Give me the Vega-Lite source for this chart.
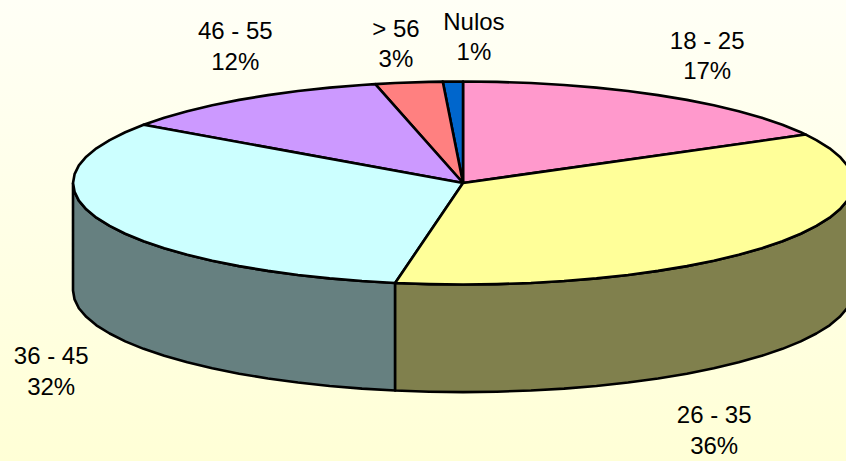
{"$schema":"https://vega.github.io/schema/vega-lite/v6.json","width":846,"height":461,"padding":0,"autosize":{"type":"none"},"background":"#FFFFE8","config":{"view":{"stroke":null}},
"datasets":{"side":[
{"s":"36 - 45 lado","i":1,"x":-100,"y":0},{"s":"36 - 45 lado","i":2,"x":-99.6,"y":-8.7},{"s":"36 - 45 lado","i":3,"x":-98.5,"y":-17.4},{"s":"36 - 45 lado","i":4,"x":-96.6,"y":-25.9},{"s":"36 - 45 lado","i":5,"x":-94,"y":-34.2},{"s":"36 - 45 lado","i":6,"x":-90.6,"y":-42.3},{"s":"36 - 45 lado","i":7,"x":-86.6,"y":-50},{"s":"36 - 45 lado","i":8,"x":-81.9,"y":-57.4},{"s":"36 - 45 lado","i":9,"x":-76.6,"y":-64.3},{"s":"36 - 45 lado","i":10,"x":-70.7,"y":-70.7},{"s":"36 - 45 lado","i":11,"x":-64.3,"y":-76.6},{"s":"36 - 45 lado","i":12,"x":-57.4,"y":-81.9},{"s":"36 - 45 lado","i":13,"x":-50,"y":-86.6},{"s":"36 - 45 lado","i":14,"x":-42.3,"y":-90.6},{"s":"36 - 45 lado","i":15,"x":-34.2,"y":-94},{"s":"36 - 45 lado","i":16,"x":-25.9,"y":-96.6},{"s":"36 - 45 lado","i":17,"x":-17.4,"y":-98.5},
{"s":"36 - 45 lado","i":18,"x":-17.4,"y":-204.5},{"s":"36 - 45 lado","i":19,"x":-25.9,"y":-202.6},{"s":"36 - 45 lado","i":20,"x":-34.2,"y":-200},{"s":"36 - 45 lado","i":21,"x":-42.3,"y":-196.6},{"s":"36 - 45 lado","i":22,"x":-50,"y":-192.6},{"s":"36 - 45 lado","i":23,"x":-57.4,"y":-187.9},{"s":"36 - 45 lado","i":24,"x":-64.3,"y":-182.6},{"s":"36 - 45 lado","i":25,"x":-70.7,"y":-176.7},{"s":"36 - 45 lado","i":26,"x":-76.6,"y":-170.3},{"s":"36 - 45 lado","i":27,"x":-81.9,"y":-163.4},{"s":"36 - 45 lado","i":28,"x":-86.6,"y":-156},{"s":"36 - 45 lado","i":29,"x":-90.6,"y":-148.3},{"s":"36 - 45 lado","i":30,"x":-94,"y":-140.2},{"s":"36 - 45 lado","i":31,"x":-96.6,"y":-131.9},{"s":"36 - 45 lado","i":32,"x":-98.5,"y":-123.4},{"s":"36 - 45 lado","i":33,"x":-99.6,"y":-114.7},{"s":"36 - 45 lado","i":34,"x":-100,"y":-106},{"s":"36 - 45 lado","i":35,"x":-100,"y":0},
{"s":"26 - 35 lado","i":1,"x":-17.4,"y":-98.5},{"s":"26 - 35 lado","i":2,"x":-8.7,"y":-99.6},{"s":"26 - 35 lado","i":3,"x":0,"y":-100},{"s":"26 - 35 lado","i":4,"x":8.7,"y":-99.6},{"s":"26 - 35 lado","i":5,"x":17.4,"y":-98.5},{"s":"26 - 35 lado","i":6,"x":25.9,"y":-96.6},{"s":"26 - 35 lado","i":7,"x":34.2,"y":-94},{"s":"26 - 35 lado","i":8,"x":42.3,"y":-90.6},{"s":"26 - 35 lado","i":9,"x":50,"y":-86.6},{"s":"26 - 35 lado","i":10,"x":57.4,"y":-81.9},{"s":"26 - 35 lado","i":11,"x":64.3,"y":-76.6},{"s":"26 - 35 lado","i":12,"x":70.7,"y":-70.7},{"s":"26 - 35 lado","i":13,"x":76.6,"y":-64.3},{"s":"26 - 35 lado","i":14,"x":81.9,"y":-57.4},{"s":"26 - 35 lado","i":15,"x":86.6,"y":-50},{"s":"26 - 35 lado","i":16,"x":90.6,"y":-42.3},{"s":"26 - 35 lado","i":17,"x":94,"y":-34.2},{"s":"26 - 35 lado","i":18,"x":96.6,"y":-25.9},{"s":"26 - 35 lado","i":19,"x":98.5,"y":-17.4},{"s":"26 - 35 lado","i":20,"x":99.6,"y":-8.7},{"s":"26 - 35 lado","i":21,"x":100,"y":0},
{"s":"26 - 35 lado","i":22,"x":100,"y":-106},{"s":"26 - 35 lado","i":23,"x":99.6,"y":-114.7},{"s":"26 - 35 lado","i":24,"x":98.5,"y":-123.4},{"s":"26 - 35 lado","i":25,"x":96.6,"y":-131.9},{"s":"26 - 35 lado","i":26,"x":94,"y":-140.2},{"s":"26 - 35 lado","i":27,"x":90.6,"y":-148.3},{"s":"26 - 35 lado","i":28,"x":86.6,"y":-156},{"s":"26 - 35 lado","i":29,"x":81.9,"y":-163.4},{"s":"26 - 35 lado","i":30,"x":76.6,"y":-170.3},{"s":"26 - 35 lado","i":31,"x":70.7,"y":-176.7},{"s":"26 - 35 lado","i":32,"x":64.3,"y":-182.6},{"s":"26 - 35 lado","i":33,"x":57.4,"y":-187.9},{"s":"26 - 35 lado","i":34,"x":50,"y":-192.6},{"s":"26 - 35 lado","i":35,"x":42.3,"y":-196.6},{"s":"26 - 35 lado","i":36,"x":34.2,"y":-200},{"s":"26 - 35 lado","i":37,"x":25.9,"y":-202.6},{"s":"26 - 35 lado","i":38,"x":17.4,"y":-204.5},{"s":"26 - 35 lado","i":39,"x":8.7,"y":-205.6},{"s":"26 - 35 lado","i":40,"x":0,"y":-206},{"s":"26 - 35 lado","i":41,"x":-8.7,"y":-205.6},{"s":"26 - 35 lado","i":42,"x":-17.4,"y":-204.5},{"s":"26 - 35 lado","i":43,"x":-17.4,"y":-98.5}
],"top":[
{"s":"18 - 25","i":0,"x":0,"y":0},{"s":"18 - 25","i":1,"x":87.9,"y":47.7},{"s":"18 - 25","i":2,"x":86.6,"y":50},{"s":"18 - 25","i":3,"x":81.9,"y":57.4},{"s":"18 - 25","i":4,"x":76.6,"y":64.3},{"s":"18 - 25","i":5,"x":70.7,"y":70.7},{"s":"18 - 25","i":6,"x":64.3,"y":76.6},{"s":"18 - 25","i":7,"x":57.4,"y":81.9},{"s":"18 - 25","i":8,"x":50,"y":86.6},{"s":"18 - 25","i":9,"x":42.3,"y":90.6},{"s":"18 - 25","i":10,"x":34.2,"y":94},{"s":"18 - 25","i":11,"x":25.9,"y":96.6},{"s":"18 - 25","i":12,"x":17.4,"y":98.5},{"s":"18 - 25","i":13,"x":8.7,"y":99.6},{"s":"18 - 25","i":14,"x":0,"y":100},{"s":"18 - 25","i":15,"x":0,"y":0},
{"s":"Nulos","i":0,"x":0,"y":0},{"s":"Nulos","i":1,"x":0,"y":100},{"s":"Nulos","i":2,"x":-5.2,"y":99.9},{"s":"Nulos","i":3,"x":0,"y":0},
{"s":"> 56","i":0,"x":0,"y":0},{"s":"> 56","i":1,"x":-5.2,"y":99.9},{"s":"> 56","i":2,"x":-8.7,"y":99.6},{"s":"> 56","i":3,"x":-17.4,"y":98.5},{"s":"> 56","i":4,"x":-22.5,"y":97.4},{"s":"> 56","i":5,"x":0,"y":0},
{"s":"46 - 55","i":0,"x":0,"y":0},{"s":"46 - 55","i":1,"x":-22.5,"y":97.4},{"s":"46 - 55","i":2,"x":-25.9,"y":96.6},{"s":"46 - 55","i":3,"x":-34.2,"y":94},{"s":"46 - 55","i":4,"x":-42.3,"y":90.6},{"s":"46 - 55","i":5,"x":-50,"y":86.6},{"s":"46 - 55","i":6,"x":-57.4,"y":81.9},{"s":"46 - 55","i":7,"x":-64.3,"y":76.6},{"s":"46 - 55","i":8,"x":-70.7,"y":70.7},{"s":"46 - 55","i":9,"x":-76.6,"y":64.3},{"s":"46 - 55","i":10,"x":-81.9,"y":57.4},{"s":"46 - 55","i":11,"x":0,"y":0},
{"s":"36 - 45","i":0,"x":0,"y":0},{"s":"36 - 45","i":1,"x":-81.9,"y":57.4},{"s":"36 - 45","i":2,"x":-86.6,"y":50},{"s":"36 - 45","i":3,"x":-90.6,"y":42.3},{"s":"36 - 45","i":4,"x":-94,"y":34.2},{"s":"36 - 45","i":5,"x":-96.6,"y":25.9},{"s":"36 - 45","i":6,"x":-98.5,"y":17.4},{"s":"36 - 45","i":7,"x":-99.6,"y":8.7},{"s":"36 - 45","i":8,"x":-100,"y":0},{"s":"36 - 45","i":9,"x":-99.6,"y":-8.7},{"s":"36 - 45","i":10,"x":-98.5,"y":-17.4},{"s":"36 - 45","i":11,"x":-96.6,"y":-25.9},{"s":"36 - 45","i":12,"x":-94,"y":-34.2},{"s":"36 - 45","i":13,"x":-90.6,"y":-42.3},{"s":"36 - 45","i":14,"x":-86.6,"y":-50},{"s":"36 - 45","i":15,"x":-81.9,"y":-57.4},{"s":"36 - 45","i":16,"x":-76.6,"y":-64.3},{"s":"36 - 45","i":17,"x":-70.7,"y":-70.7},{"s":"36 - 45","i":18,"x":-64.3,"y":-76.6},{"s":"36 - 45","i":19,"x":-57.4,"y":-81.9},{"s":"36 - 45","i":20,"x":-50,"y":-86.6},{"s":"36 - 45","i":21,"x":-42.3,"y":-90.6},{"s":"36 - 45","i":22,"x":-34.2,"y":-94},{"s":"36 - 45","i":23,"x":-25.9,"y":-96.6},{"s":"36 - 45","i":24,"x":-17.4,"y":-98.5},{"s":"36 - 45","i":25,"x":0,"y":0},
{"s":"26 - 35","i":0,"x":0,"y":0},{"s":"26 - 35","i":1,"x":-17.4,"y":-98.5},{"s":"26 - 35","i":2,"x":-8.7,"y":-99.6},{"s":"26 - 35","i":3,"x":0,"y":-100},{"s":"26 - 35","i":4,"x":8.7,"y":-99.6},{"s":"26 - 35","i":5,"x":17.4,"y":-98.5},{"s":"26 - 35","i":6,"x":25.9,"y":-96.6},{"s":"26 - 35","i":7,"x":34.2,"y":-94},{"s":"26 - 35","i":8,"x":42.3,"y":-90.6},{"s":"26 - 35","i":9,"x":50,"y":-86.6},{"s":"26 - 35","i":10,"x":57.4,"y":-81.9},{"s":"26 - 35","i":11,"x":64.3,"y":-76.6},{"s":"26 - 35","i":12,"x":70.7,"y":-70.7},{"s":"26 - 35","i":13,"x":76.6,"y":-64.3},{"s":"26 - 35","i":14,"x":81.9,"y":-57.4},{"s":"26 - 35","i":15,"x":86.6,"y":-50},{"s":"26 - 35","i":16,"x":90.6,"y":-42.3},{"s":"26 - 35","i":17,"x":94,"y":-34.2},{"s":"26 - 35","i":18,"x":96.6,"y":-25.9},{"s":"26 - 35","i":19,"x":98.5,"y":-17.4},{"s":"26 - 35","i":20,"x":99.6,"y":-8.7},{"s":"26 - 35","i":21,"x":100,"y":0},{"s":"26 - 35","i":22,"x":99.6,"y":8.7},{"s":"26 - 35","i":23,"x":98.5,"y":17.4},{"s":"26 - 35","i":24,"x":96.6,"y":25.9},{"s":"26 - 35","i":25,"x":94,"y":34.2},{"s":"26 - 35","i":26,"x":90.6,"y":42.3},{"s":"26 - 35","i":27,"x":87.9,"y":47.7},{"s":"26 - 35","i":28,"x":0,"y":0}
],"labels":[
{"label":"18 - 25\n17%","x":62.6,"y":139.4},{"label":"26 - 35\n36%","x":64.4,"y":-230},{"label":"36 - 45\n32%","x":-105.6,"y":-171.9},{"label":"46 - 55\n12%","x":-58.4,"y":148.3},{"label":"> 56\n3%","x":-17.2,"y":151.2},{"label":"Nulos\n1%","x":2.8,"y":158.1}
]},
"encoding":{
"x":{"field":"x","type":"quantitative","axis":null,"scale":{"domain":[-118.72,98.2],"nice":false,"zero":false}},
"y":{"field":"y","type":"quantitative","axis":null,"scale":{"domain":[-273.9,180.3],"nice":false,"zero":false}}
},
"layer":[
{"data":{"values":[{"fondo":1}]},"mark":{"type":"rect","clip":true,"fill":{"gradient":"linear","x1":0,"y1":0,"x2":0,"y2":1,"stops":[{"offset":0,"color":"#FFFFF6"},{"offset":1,"color":"#FFFFD6"}]}},"encoding":{"x":{"value":0},"x2":{"value":846},"y":{"value":0},"y2":{"value":461}}},
{"data":{"name":"side"},"mark":{"type":"line","filled":true,"stroke":"black","strokeWidth":2.6,"strokeJoin":"round","clip":true},"encoding":{"color":{"field":"s","type":"nominal","legend":null,"scale":{"domain":["18 - 25","26 - 35","36 - 45","46 - 55","> 56","Nulos","26 - 35 lado","36 - 45 lado"],"range":["#FF99CC","#FFFF99","#CCFFFF","#CC99FF","#FF8080","#0066CC","#80804D","#668080"]}},"order":{"field":"i","type":"quantitative"}}},
{"data":{"name":"top"},"mark":{"type":"line","filled":true,"stroke":"black","strokeWidth":2.6,"strokeJoin":"round","clip":true},"encoding":{"color":{"field":"s","type":"nominal","legend":null},"order":{"field":"i","type":"quantitative"}}},
{"data":{"name":"labels"},"mark":{"type":"text","font":"Liberation Sans","fontSize":24,"lineBreak":"\n","lineHeight":30.5,"align":"center","baseline":"middle","fill":"black"},"encoding":{"text":{"field":"label"}}}
]}
